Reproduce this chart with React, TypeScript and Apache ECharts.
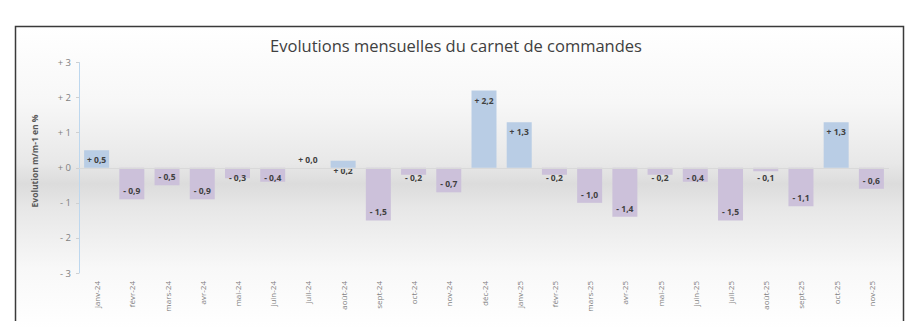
import React, { useEffect, useRef } from "react";
import * as echarts from "echarts";

const categories = [
  "janv-24", "févr-24", "mars-24", "avr-24", "mai-24", "juin-24", "juil-24", "août-24",
  "sept-24", "oct-24", "nov-24", "déc-24", "janv-25", "févr-25", "mars-25", "avr-25",
  "mai-25", "juin-25", "juil-25", "août-25", "sept-25", "oct-25", "nov-25",
];
const values = [
  0.5, -0.9, -0.5, -0.9, -0.3, -0.4, 0.0, 0.2,
  -1.5, -0.2, -0.7, 2.2, 1.3, -0.2, -1.0, -1.4,
  -0.2, -0.4, -1.5, -0.1, -1.1, 1.3, -0.6,
];
const yTicks = [-3, -2, -1, 0, 1, 2, 3];

const titleText = "Evolutions mensuelles du carnet de commandes";
const yAxisName = "Evolution m/m-1 en %";

const POS_COLOR = "#b9cde5";
const NEG_COLOR = "#ccc1da";
const FONT = "'Open Sans', 'Noto Sans', sans-serif";

function fmt(v: number): string {
  const s = Math.abs(v).toFixed(1).replace(".", ",");
  return (v < 0 ? "- " : "+ ") + s;
}

export default function App() {
  const ref = useRef<HTMLDivElement>(null);
  useEffect(() => {
    document.body.style.margin = "0";
    if (!ref.current) return;
    const chart = echarts.init(ref.current, null, { renderer: "svg" });
    const data = values.map((v) => {
      let label: any;
      if (v > 0) label = { position: "insideTop", distance: 5 };
      else if (v === 0) label = { position: "top", distance: 4 };
      else if (v <= -0.5) label = { position: "insideBottom", distance: 4 };
      else label = { position: "insideTop", distance: 5 };
      return {
        value: v,
        itemStyle: { color: v >= 0 ? POS_COLOR : NEG_COLOR },
        label,
      };
    });
    chart.setOption({
      animation: false,
      title: {
        text: titleText,
        left: "center",
        top: 32,
        textStyle: { fontFamily: FONT, fontSize: 16.5, fontWeight: "normal", color: "#404040" },
      },
      graphic: [
        {
          type: "rect",
          silent: true,
          z: -10,
          shape: { x: 16, y: 27, width: 887, height: 302 },
          style: {
            fill: new echarts.graphic.LinearGradient(0, 0, 0, 1, [
              { offset: 0, color: "#ffffff" },
              { offset: 0.25, color: "#f7f7f7" },
              { offset: 0.45, color: "#e8e8e8" },
              { offset: 0.52, color: "#dcdcdc" },
              { offset: 0.6, color: "#e7e7e7" },
              { offset: 0.8, color: "#f8f8f8" },
              { offset: 1, color: "#ffffff" },
            ]),
          },
        },
        {
          type: "polyline",
          silent: true,
          z: -5,
          shape: { points: [[15.5, 321], [15.5, 26.5], [903.5, 26.5], [903.5, 321]] },
          style: { stroke: "#3a3a3a", lineWidth: 1.5, fill: "none" },
        },
        {
          type: "text",
          rotation: Math.PI / 2,
          style: {
            text: yAxisName,
            fontFamily: FONT,
            fontSize: 8.5,
            fontWeight: "bold",
            fill: "#595959",
            align: "center",
            verticalAlign: "middle",
          },
          x: 34,
          y: 161,
        },
      ],
      grid: { left: 79, right: 23, top: 62.5, bottom: 56 },
      xAxis: {
        type: "category",
        data: categories,
        axisLine: { show: false, onZero: false },
        axisTick: { show: false },
        axisLabel: {
          rotate: 90,
          margin: 8,
          fontFamily: FONT,
          fontSize: 8,
          color: "#7f7f7f",
          interval: 0,
        },
      },
      yAxis: {
        type: "value",
        min: -3,
        max: 3,
        interval: 1,
        axisLine: { show: true, lineStyle: { color: "#bdd7ee", width: 1 } },
        axisTick: { show: true, length: 3, lineStyle: { color: "#d0d0d0" } },
        splitLine: { show: false },
        axisLabel: {
          fontFamily: FONT,
          fontSize: 9.5,
          color: "#7f7f7f",
          margin: 8,
          formatter: (v: number) => (yTicks.includes(v) ? fmt(v).replace(",0", "") : ""),
        },
      },
      series: [
        {
          type: "bar",
          data,
          barCategoryGap: "29%",
          label: {
            show: true,
            fontFamily: FONT,
            fontSize: 8.5,
            fontWeight: "bold",
            color: "#404040",
            formatter: (p: any) => fmt(p.value),
          },
          markLine: {
            silent: true,
            symbol: "none",
            label: { show: false },
            lineStyle: { color: "#d9d9d9", width: 1, type: "solid" },
            data: [{ yAxis: 0 }],
          },
        },
      ],
    });
    return () => chart.dispose();
  }, []);
  return <div ref={ref} style={{ width: 912, height: 329 }} />;
}
